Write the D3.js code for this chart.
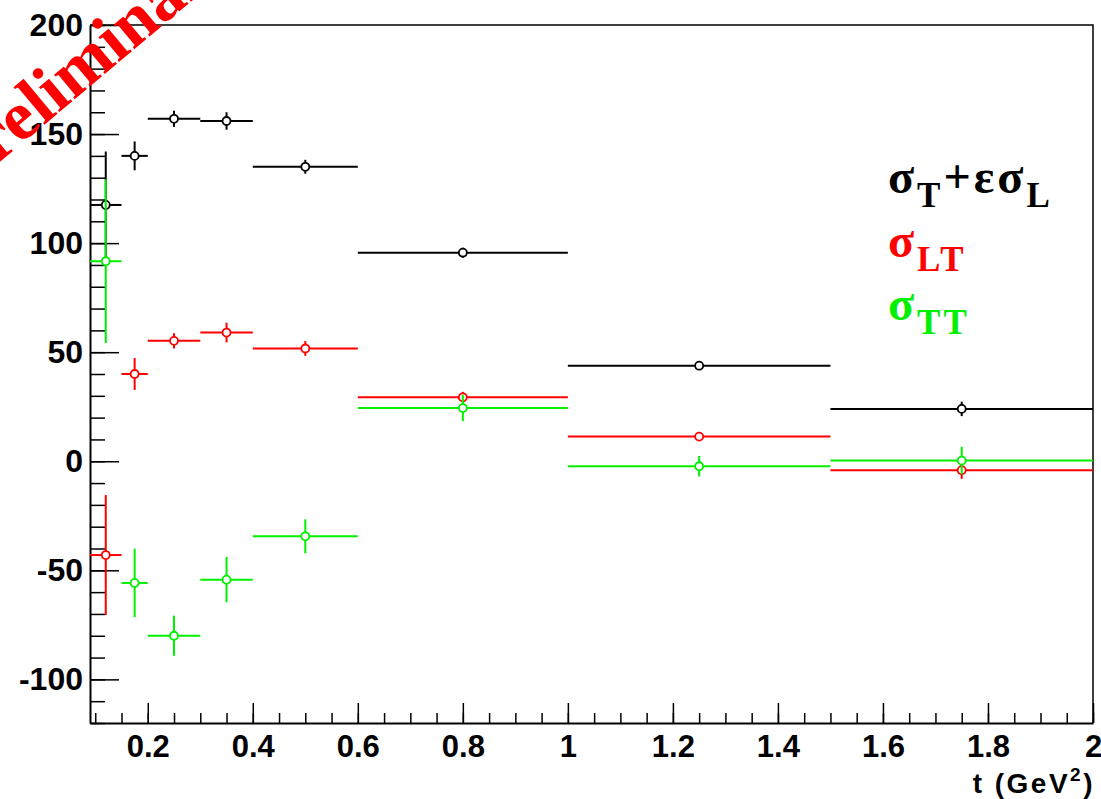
<!DOCTYPE html>
<html>
<head>
<meta charset="utf-8">
<script src="https://cdn.jsdelivr.net/npm/d3@7"></script>
<style>
  body { margin: 0; background: #fff; }
  .tick text { font-family: "Liberation Sans", Arial, sans-serif; font-weight: bold; }
</style>
</head>
<body>
<script>
var svgWidth = 1101;
var svgHeight = 799;

// t bins (centre and half width)
var tCenter = [0.12, 0.175, 0.25, 0.35, 0.5, 0.8, 1.25, 1.75];
var tHalf = [0.03, 0.025, 0.05, 0.05, 0.1, 0.2, 0.25, 0.25];

// sigma_T + eps sigma_L
var sigTL = [117.5, 140, 157, 156, 135, 95.6, 43.8, 24];
var sigTLErr = [24.5, 6.6, 3.7, 4, 3.2, 2.3, 1, 3.3];
// sigma_LT
var sigLT = [-43, 40, 55.2, 59, 51.7, 29.3, 11.3, -4.1];
var sigLTErr = [27.5, 7.3, 3.5, 4.5, 3.4, 2.5, 1, 4];
// sigma_TT
var sigTT = [91.7, -55.8, -80, -54.3, -34.4, 24.4, -2.3, 0.3];
var sigTTErr = [37.5, 15.7, 9.2, 10.4, 7.8, 6, 4.7, 6.3];

var xTicks = [0.2, 0.4, 0.6, 0.8, 1, 1.2, 1.4, 1.6, 1.8, 2];
var yTicks = [-100, -50, 0, 50, 100, 150, 200];

var frame = { left: 90, right: 1093, top: 25, bottom: 723 };

var svg = d3.select("body")
    .append("svg")
    .attr("width", svgWidth)
    .attr("height", svgHeight);

svg.append("rect").attr("width", svgWidth).attr("height", svgHeight).attr("fill", "#fff");

var x = d3.scaleLinear().domain([0.09, 2]).range([frame.left, frame.right]);
var y = d3.scaleLinear().domain([-120, 200]).range([frame.bottom, frame.top]);

// frame top/right
svg.append("path")
    .attr("d", `M${frame.left},${frame.top}H${frame.right}V${frame.bottom}`)
    .attr("fill", "none")
    .attr("stroke", "#000")
    .attr("stroke-width", 1.5);

// minor ticks
svg.append("g")
    .attr("transform", `translate(0,${frame.bottom})`)
    .call(d3.axisBottom(x).tickValues(d3.range(0.1, 2.001, 0.05)).tickSize(-10).tickFormat(""))
    .call(g => g.select(".domain").remove());
svg.append("g")
    .attr("transform", `translate(${frame.left},0)`)
    .call(d3.axisLeft(y).tickValues(d3.range(-120, 200.1, 10)).tickSize(-15).tickFormat(""))
    .call(g => g.select(".domain").remove());

// major axes
var xAxis = svg.append("g")
    .attr("transform", `translate(0,${frame.bottom})`)
    .call(d3.axisBottom(x).tickValues(xTicks).tickSize(-20).tickPadding(12).tickSizeOuter(0)
        .tickFormat(d => String(+d.toFixed(1))));
xAxis.selectAll("text").style("font-size", "31px").attr("fill", "#000");
xAxis.select(".domain").attr("stroke-width", 2);

var yAxis = svg.append("g")
    .attr("transform", `translate(${frame.left},0)`)
    .call(d3.axisLeft(y).tickValues(yTicks).tickSize(-29).tickPadding(7).tickSizeOuter(0)
        .tickFormat(d => String(d)));
yAxis.selectAll("text").style("font-size", "32px").attr("fill", "#000");
yAxis.select(".domain").attr("stroke-width", 2);

svg.selectAll(".tick line").attr("stroke-width", 1.5);

// axis title
var title = svg.append("text")
    .attr("x", 1095)
    .attr("y", 793)
    .attr("text-anchor", "end")
    .style("font-family", "Liberation Sans, Arial, sans-serif")
    .style("font-weight", "bold")
    .style("font-size", "28px")
    .style("letter-spacing", "2.5px");
title.append("tspan").text("t (GeV");
title.append("tspan").attr("dy", -12).style("font-size", "19px").text("2");
title.append("tspan").attr("dy", 12).text(")");

// data series
var series = [
    { vals: sigTL, errs: sigTLErr, color: "#000" },
    { vals: sigLT, errs: sigLTErr, color: "#ff0000" },
    { vals: sigTT, errs: sigTTErr, color: "#00f000" }
];

series.forEach(function (s) {
    var pts = tCenter.map((t, i) => ({ t: t, h: tHalf[i], v: s.vals[i], e: s.errs[i] }));
    var g = svg.append("g");
    g.selectAll(".hbar")
        .data(pts)
        .enter()
        .append("line")
        .attr("x1", d => x(d.t - d.h))
        .attr("x2", d => x(d.t + d.h))
        .attr("y1", d => y(d.v))
        .attr("y2", d => y(d.v))
        .attr("stroke", s.color)
        .attr("stroke-width", 2);
    g.selectAll(".vbar")
        .data(pts)
        .enter()
        .append("line")
        .attr("x1", d => x(d.t))
        .attr("x2", d => x(d.t))
        .attr("y1", d => y(d.v - d.e))
        .attr("y2", d => y(d.v + d.e))
        .attr("stroke", s.color)
        .attr("stroke-width", 2);
    g.selectAll("circle")
        .data(pts)
        .enter()
        .append("circle")
        .attr("cx", d => x(d.t))
        .attr("cy", d => y(d.v))
        .attr("r", 4)
        .attr("fill", "#fff")
        .attr("stroke", s.color)
        .attr("stroke-width", 1.8);
});

// legend text
function sigmaLabel(yy, color, parts) {
    var t = svg.append("text")
        .attr("x", 888)
        .attr("y", yy)
        .attr("fill", color)
        .style("font-family", "Liberation Serif, Times New Roman, serif")
        .style("font-weight", "bold")
        .style("font-size", "48px")
        .style("letter-spacing", "3px");
    var shift = 0;
    parts.forEach(function (p) {
        var dy = (p.sub ? 14 : 0) - shift;
        shift = p.sub ? 14 : 0;
        t.append("tspan").attr("dy", dy).style("font-size", p.sub ? "35px" : "48px").text(p.s);
    });
}
sigmaLabel(193, "#000", [{ s: "σ" }, { s: "T", sub: true }, { s: "+εσ" }, { s: "L", sub: true }]);
sigmaLabel(257, "#ff0000", [{ s: "σ" }, { s: "LT", sub: true }]);
sigmaLabel(320, "#00f000", [{ s: "σ" }, { s: "TT", sub: true }]);

// watermark
svg.append("text")
    .attr("transform", "translate(-36,192) rotate(-40)")
    .attr("fill", "#ff0000")
    .style("font-family", "Liberation Serif, Times New Roman, serif")
    .style("font-weight", "bold")
    .style("font-size", "70px")
    .text("Preliminary");
</script>
</body>
</html>
